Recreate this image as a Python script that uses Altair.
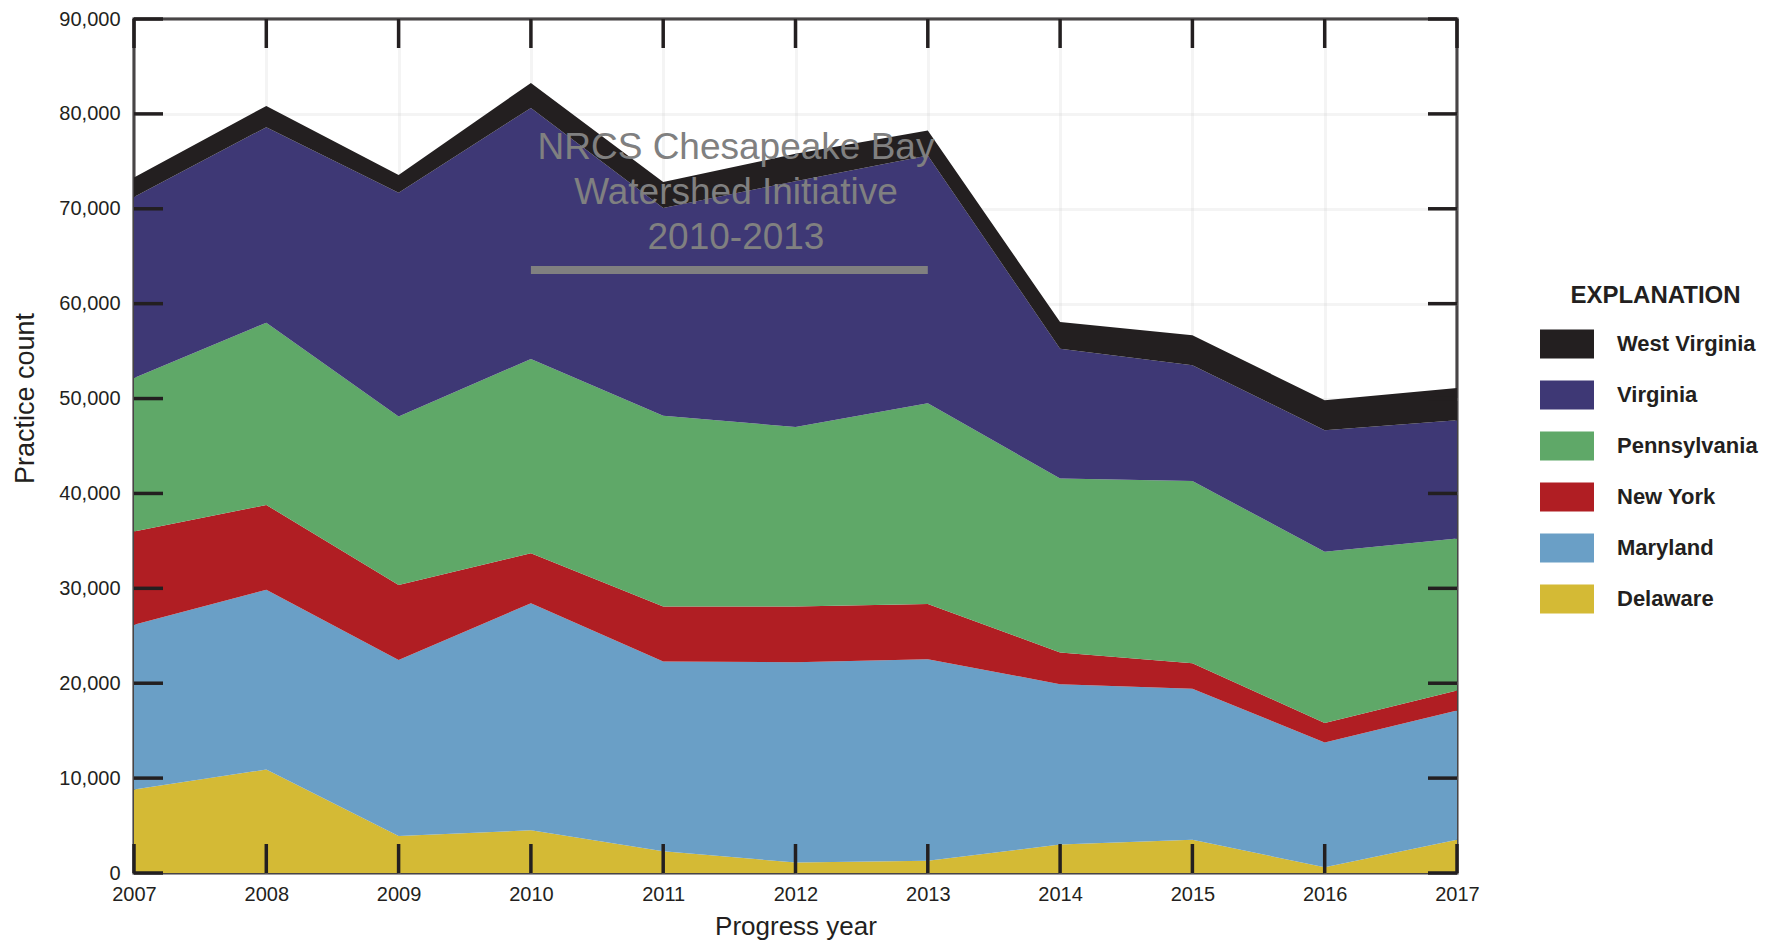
import altair as alt
import pandas as pd

# ---------------- data ----------------
years = list(range(2007, 2018))
states = ["West Virginia", "Virginia", "Pennsylvania", "New York", "Maryland", "Delaware"]
colors = ["#231f20", "#3e3875", "#5fa868", "#b01e23", "#6a9fc6", "#d4ba35"]
stack_rank = {"Delaware": 0, "Maryland": 1, "New York": 2, "Pennsylvania": 3,
              "Virginia": 4, "West Virginia": 5}

delaware = [8800, 10900, 3900, 4500, 2300, 1100, 1300, 3000, 3500, 600, 3500]
maryland = [17350, 18940, 18560, 23930, 19990, 21120, 21230, 16900, 15910, 13160, 13630]
new_york = [9830, 8950, 7900, 5270, 5790, 5860, 5830, 3340, 2700, 2040, 2100]
pennsylvania = [16190, 19210, 17740, 20470, 20120, 18920, 21140, 18340, 19190, 18060, 16030]
virginia = [19080, 20600, 23600, 26460, 21890, 25900, 26110, 13680, 12210, 12800, 12460]
west_virginia = [2050, 2240, 1870, 2630, 2740, 2900, 2630, 2810, 3160, 3160, 3400]

y_ticks = list(range(0, 90001, 10000))

note_lines = ["NRCS Chesapeake Bay", "Watershed Initiative", "2010-2013"]
note_year = 2011.55
note_value = 76400
bar_start, bar_end, bar_value = 2010, 2013, 63550

series = {
    "Delaware": delaware,
    "Maryland": maryland,
    "New York": new_york,
    "Pennsylvania": pennsylvania,
    "Virginia": virginia,
    "West Virginia": west_virginia,
}
rows = []
for st, vals in series.items():
    for yr, v in zip(years, vals):
        rows.append({"year": yr, "count": v, "state": st, "rank": stack_rank[st]})
df = pd.DataFrame(rows)

# ---------------- style ----------------
W, H = 1323, 854
INK = "#231f20"
FONT = "Liberation Sans, Arial, sans-serif"
TICK = 29

x_scale = alt.Scale(domain=[2007, 2017], nice=False, zero=False)
y_scale = alt.Scale(domain=[0, 90000], nice=False)

x_axis = alt.Axis(values=years, format="d", title="Progress year",
                  labelFlush=False, labelPadding=11, labelOverlap=False,
                  titleBaseline="top", titleY=40, titleFontSize=26)
y_axis = alt.Axis(values=y_ticks, format=",d", title="Practice count",
                  labelPadding=14, labelOverlap=False,
                  titleAngle=270, titleX=-109, titleY=379,
                  titleAlign="center", titleBaseline="middle")

X = alt.X("year:Q", scale=x_scale, axis=x_axis)
Y = alt.Y("count:Q", scale=y_scale, axis=y_axis)

area = alt.Chart(df).mark_area(interpolate="linear").encode(
    x=X,
    y=alt.Y("count:Q", stack="zero", scale=y_scale, axis=y_axis),
    color=alt.Color("state:N", scale=alt.Scale(domain=states, range=colors),
                    legend=alt.Legend(
                        title="EXPLANATION", orient="none",
                        legendX=1418.5, legendY=264.5,
                        titleFont=FONT, titleFontSize=24, titleFontWeight="bold",
                        titleColor=INK, titleAnchor="middle", titlePadding=22,
                        titleLimit=600,
                        labelFont=FONT, labelFontSize=22, labelFontWeight="bold",
                        labelColor=INK, labelOffset=35.5, labelLimit=400,
                        symbolType="M-1.862,-1H1.862V1H-1.862Z", symbolSize=841,
                        symbolStrokeWidth=0, symbolOpacity=1,
                        rowPadding=22, padding=0)),
    order=alt.Order("rank:Q", sort="ascending"),
)

bar_df = pd.DataFrame({"year": [bar_start], "year2": [bar_end], "count": [bar_value]})
note_bar = alt.Chart(bar_df).mark_rule(color="#808080", strokeWidth=8).encode(
    x=X, x2="year2:Q", y=Y,
)

note_df = pd.DataFrame({"year": [note_year], "count": [note_value]})
note_text = alt.Chart(note_df).mark_text(
    text=note_lines, font="Liberation Sans, Arial, sans-serif", fontSize=37,
    color="#808080", align="center", baseline="middle", lineHeight=45,
).encode(x=X, y=Y)

xt = pd.DataFrame({"year": years})
yt = pd.DataFrame({"count": y_ticks})
rule_kw = dict(color=INK, strokeWidth=3.5)
bottom_ticks = alt.Chart(xt).mark_rule(**rule_kw).encode(
    x=X, y=alt.value(H), y2=alt.value(H - TICK))
top_ticks = alt.Chart(xt).mark_rule(**rule_kw).encode(
    x=X, y=alt.value(0), y2=alt.value(TICK))
left_ticks = alt.Chart(yt).mark_rule(**rule_kw).encode(
    y=Y, x=alt.value(0), x2=alt.value(TICK))
right_ticks = alt.Chart(yt).mark_rule(**rule_kw).encode(
    y=Y, x=alt.value(W - TICK), x2=alt.value(W))

chart = alt.layer(
    area, note_bar, note_text, bottom_ticks, top_ticks, left_ticks, right_ticks
).properties(
    width=W, height=H,
    padding={"left": 126, "top": 11, "right": 307, "bottom": 70},
    autosize=alt.AutoSizeParams(type="none"),
    background="white",
).configure_view(
    stroke=INK, strokeWidth=3,
).configure_axis(
    labelFont=FONT, labelFontSize=20, labelColor=INK,
    titleFont=FONT, titleFontSize=27, titleFontWeight="normal", titleColor=INK,
    domain=False, ticks=False, tickSize=0,
    grid=True, gridColor="#cccccc", gridOpacity=0.22, gridWidth=3,
    zindex=1,
)

chart.save("out.html", embed_options={"renderer": "svg", "actions": False})
